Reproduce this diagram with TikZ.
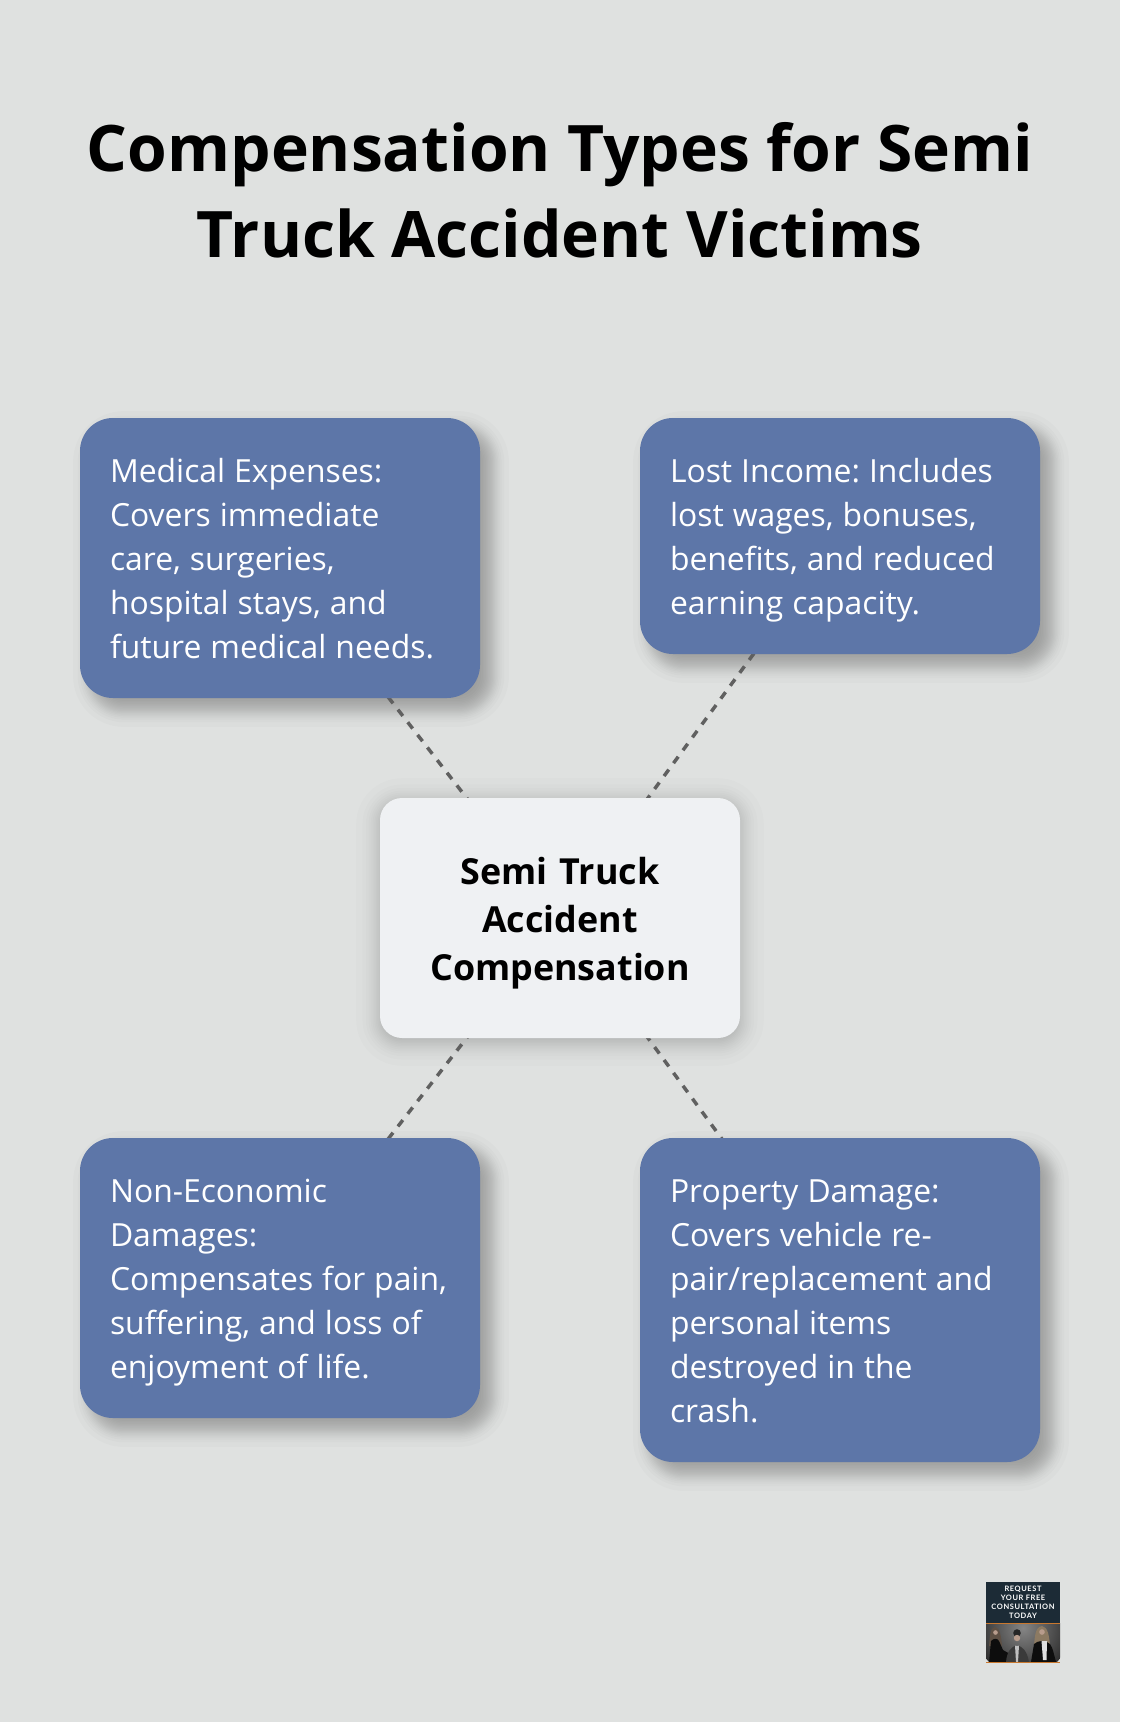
\documentclass[tikz,border=0pt]{standalone}
\usepackage{fontspec}
\setmainfont{Open Sans}
\newfontfamily\badgefont[LetterSpace=8]{Lato}
\usetikzlibrary{calc}
\definecolor{pagebg}{HTML}{DFE1E0}
\definecolor{boxblue}{HTML}{5D76A8}
\definecolor{boxlight}{HTML}{EFF1F3}
\definecolor{linegray}{HTML}{606060}
\definecolor{badgenavy}{HTML}{1C2B36}
\definecolor{badgeorange}{HTML}{C9782E}
\definecolor{skinA}{HTML}{B89C8C}
\definecolor{hairA}{HTML}{5E5044}
\definecolor{hairB}{HTML}{8C7A62}
\definecolor{suitgray}{HTML}{3A3A3A}
\pgfdeclarelayer{pagelayer}
\pgfdeclarelayer{shadowlayer}
\pgfdeclarelayer{linelayer}
\pgfsetlayers{pagelayer,shadowlayer,linelayer,main}
% gaussian-like soft shadow: #1 radius px, #2 node, #3 x offset, #4 y offset, #5 opacity per step, #6 sigma px
\newcommand{\softshadow}[6]{%
  \foreach \z in {-1.96,-1.44,-1.15,-.93,-.755,-.6,-.45,-.32,-.19,-.06,.06,.19,.32,.45,.6,.755,.93,1.15,1.44,1.96}{%
    \pgfmathsetmacro{\dd}{\z*#6}%
    \pgfmathsetmacro{\rr}{max(2,#1+\dd)*0.75}%
    \fill[black,opacity=#5,rounded corners=\rr pt]
      ($(#2.south west)+(#3-\dd,#4+\dd)$) rectangle ($(#2.north east)+(#3+\dd,#4-\dd)$);
  }%
}
\newcommand{\ls}{\rule[-6.9pt]{0pt}{33pt}}
\newcommand{\lc}{\rule[-7.5pt]{0pt}{36pt}}
\newcommand{\narrowspaces}{\spaceskip 6.75pt\relax}
\tikzset{
  infobox/.style={fill=boxblue,text=white,rounded corners=24.75pt,inner xsep=22.5pt,inner ysep=0pt,
    minimum width=300pt,text width=255pt,align=left,font=\fontsize{23.9}{33}\selectfont\frenchspacing,
    execute at begin node=\narrowspaces},
  hubbox/.style={fill=boxlight,text=black,rounded corners=16.5pt,inner sep=0pt,minimum width=270pt,minimum height=180pt,
    text width=240pt,align=center,font=\fontsize{26.9}{36}\selectfont\bfseries},
  titletext/.style={text=black,align=center,inner sep=0pt,font=\fontsize{48.1}{64.5}\selectfont\bfseries},
  dotline/.style={draw=linegray,line width=2.6pt,dash pattern=on 6pt off 6pt},
  badgetext/.style={text=white,align=center,inner sep=0pt,font=\fontsize{5.6}{6.75}\selectfont\badgefont\bfseries}
}
\begin{document}
\begin{tikzpicture}[x=0.75pt,y=-0.75pt]
\begin{pgfonlayer}{pagelayer}
\fill[pagebg] (0,0) rectangle (1120,1722);
\end{pgfonlayer}
\useasboundingbox (0,0) rectangle (1120,1722);
\node[titletext] (title) at (560,190) {\rule[-9pt]{0pt}{36pt}Compensation Types for Semi\\Truck Accident Victims};
\node[infobox,minimum height=210pt] (med) at (280,558) {\ls Medical Expenses:\\Covers immediate\\care, surgeries,\\hospital stays, and\\\ls future medical needs.};
\node[infobox,minimum height=177pt] (inc) at (840,536) {\ls Lost Income: Includes\\lost wages, bonuses,\\benefits, and reduced\\\ls earning capacity.};
\node[infobox,minimum height=210pt] (non) at (280,1278) {\ls Non-Economic\\Damages:\\\mbox{Compensates for pain,}\\suffering, and loss of\\\ls enjoyment of life.};
\node[infobox,minimum height=243pt] (prop) at (840,1300) {\ls Property Damage:\\Covers vehicle re-\\pair/replacement and\\personal items\\destroyed in the\\\ls crash.};
\node[hubbox] (hub) at (560,918) {\lc Semi Truck\\Accident\\\lc Compensation};
\begin{pgfonlayer}{shadowlayer}
\softshadow{33}{med}{11}{11}{0.015}{9}
\softshadow{33}{inc}{11}{11}{0.015}{9}
\softshadow{33}{non}{11}{11}{0.015}{9}
\softshadow{33}{prop}{11}{11}{0.015}{9}
\softshadow{22}{hub}{0}{4}{0.011}{12}
\end{pgfonlayer}
\begin{pgfonlayer}{linelayer}
\draw[dotline] (hub.center) -- (med.center);
\draw[dotline] (hub.center) -- (inc.center);
\draw[dotline] (hub.center) -- (non.center);
\draw[dotline] (hub.center) -- (prop.center);
\end{pgfonlayer}
% badge
\node[fill=badgenavy,minimum width=55.5pt,minimum height=31pt,inner sep=0pt] (badgetop) at (1023,1602.5) {};
\begin{scope}
\clip (986,1623) rectangle (1060,1662);
\shade[inner color=black!48,outer color=black!82] (1023,1628) circle (48);
% left woman
\fill[hairA] (995,1627) .. controls (990,1628) and (990,1636) .. (989,1646) -- (1002,1646) .. controls (1001,1636) and (1000,1628) .. (995,1627) -- cycle;
\fill[skinA] (995.5,1632.5) circle (2.3);
\fill[black!95] (989,1662) -- (991,1641) .. controls (994,1638) and (997,1638) .. (999,1641) -- (1003,1650) -- (1010,1654) -- (1008,1662) -- cycle;
% middle man
\fill[black!85] (1017,1633) circle (3.8);
\fill[skinA] (1017,1638) circle (3.2);
\fill[suitgray] (1006,1662) .. controls (1007,1651) and (1011,1647) .. (1017,1645) .. controls (1023,1647) and (1027,1651) .. (1029,1662) -- cycle;
\fill[black!25] (1015,1645.5) -- (1019,1645.5) -- (1018,1662) -- (1016,1662) -- cycle;
% right woman
\fill[hairB] (1042,1626) .. controls (1035,1627) and (1035,1636) .. (1034,1645) -- (1050,1645) .. controls (1049,1636) and (1048,1627) .. (1042,1626) -- cycle;
\fill[skinA] (1042,1632) circle (2.8);
\fill[black!95] (1031,1662) -- (1034,1644) .. controls (1038,1640) and (1046,1640) .. (1050,1644) .. controls (1053,1648) and (1054,1655) .. (1056,1662) -- cycle;
\fill[black!12] (1041.5,1641) -- (1047,1641) -- (1046.5,1660) -- (1043,1660) -- cycle;
\end{scope}
\fill[badgeorange] (986,1622.5) rectangle (1060,1623.5);
\fill[badgeorange] (986,1661.5) rectangle (1060,1662.5);
\node[badgetext] (badgelabel) at (1023,1602.5) {REQUEST\\YOUR FREE\\CONSULTATION\\TODAY};
\end{tikzpicture}
\end{document}
